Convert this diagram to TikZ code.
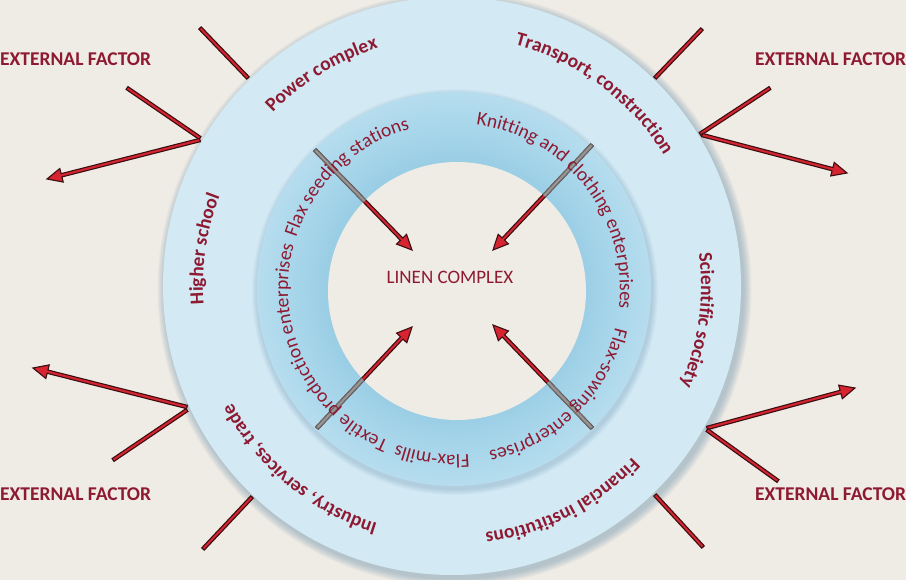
\documentclass[tikz,border=0pt]{standalone}
\usepackage{fontspec}
\setmainfont{Carlito}
\usetikzlibrary{calc,decorations.text}
\definecolor{bg}{HTML}{EFEBE5}
\definecolor{ringout}{HTML}{D3EAF5}
\definecolor{ringmidA}{HTML}{9ACEE5}
\definecolor{ringmidM}{HTML}{A6D5EA}
\definecolor{ringmidB}{HTML}{B6DDEE}
\definecolor{shadowc}{HTML}{5F8CA8}
\definecolor{txtred}{HTML}{8E1A32}
\definecolor{arrred}{HTML}{D62430}
\definecolor{arrdark}{HTML}{3B0E12}
\definecolor{greyfill}{HTML}{9A9696}
\definecolor{greyline}{HTML}{6E6868}
\pgfdeclareradialshading{midring}{\pgfpointorigin}{color(0bp)=(ringmidA); color(16.3bp)=(ringmidA); color(20bp)=(ringmidM); color(25bp)=(ringmidB); color(50bp)=(ringmidB)}
\newcommand\outerlbl{\bfseries\fontsize{19.5}{21}\selectfont}
\newcommand\midlbl{\fontsize{19.5}{21}\selectfont}
% arrow polygon: [style]{start}{tip}
\newcommand\mkarrow[3][arrow body]{%
  \path ($(#3)!15pt!(#2)$) coordinate (tmpP);
  \filldraw[#1] ($(#2)!1.7pt!90:(#3)$) -- ($(tmpP)!1.7pt!90:(#3)$) -- ($(tmpP)!7pt!90:(#3)$) -- (#3) -- ($(tmpP)!7pt!-90:(#3)$) -- ($(tmpP)!1.7pt!-90:(#3)$) -- ($(#2)!1.7pt!-90:(#3)$) -- cycle;
}
\newcommand\mkline[3][arrow body]{%
  \filldraw[#1] ($(#2)!1.7pt!90:(#3)$) -- ($(#3)!1.7pt!-90:(#2)$) -- ($(#3)!1.7pt!90:(#2)$) -- ($(#2)!1.7pt!-90:(#3)$) -- cycle;
}
% {center}{radius}{center angle}{font}{text}
\newcommand\arclabel[5]{%
  \path[decorate, decoration={text along path, text align=center, text color=txtred, text={|#4|#5}}]
    ($(#1)+({#3+80}:#2)$) arc[start angle={#3+80}, end angle={#3-80}, radius=#2];
}
\begin{document}
\begin{tikzpicture}[x=1pt,y=1pt,
  arrow body/.style={fill=arrred, draw=arrdark, line width=1.1pt, line join=miter},
  grey body/.style={fill=greyfill, draw=greyline, line width=1.1pt, line join=miter},
  ext/.style={text=txtred, font=\outerlbl, inner sep=0pt, anchor=west},
]
\useasboundingbox (0,0) rectangle (906,-580);
\fill[bg] (0,0) rectangle (906,-580);
\coordinate (O1) at (452,-286);
\coordinate (O2) at (454,-289);
\coordinate (O3) at (457,-291);
% rings
\foreach \k in {0,...,7}{\fill[shadowc, opacity=0.06] ($(O1)+(2.5,-3.5)$) circle ({297-\k});}
\fill[ringout] (O1) circle (289);
\foreach \k in {0,...,5}{\fill[shadowc, opacity=0.05] ($(O2)+(1,-3)$) circle ({203-\k});}
\shade[shading=midring] (O2) circle (197);
\fill[bg] (O3) circle (129);
% external connectors
\coordinate (a1) at (200,-28);  \coordinate (a2) at (248,-78);
\coordinate (b1) at (127,-88);  \coordinate (b2) at (200,-138);
\coordinate (c1) at (200,-140); \coordinate (c2) at (47,-179);
\coordinate (d1) at (702,-29);  \coordinate (d2) at (655,-78);
\coordinate (e1) at (770,-88);  \coordinate (e2) at (700,-134);
\coordinate (f1) at (702,-135); \coordinate (f2) at (847,-173);
\coordinate (g1) at (187,-407); \coordinate (g2) at (33,-368);
\coordinate (h1) at (187,-410); \coordinate (h2) at (113,-460);
\coordinate (i1) at (252,-497); \coordinate (i2) at (203,-549);
\coordinate (j1) at (707,-428); \coordinate (j2) at (855,-388);
\coordinate (k1) at (707,-430); \coordinate (k2) at (778,-481);
\coordinate (l1) at (655,-495); \coordinate (l2) at (703,-547);
\mkline{a1}{a2}
\mkline{b1}{b2}
\mkarrow{c1}{c2}
\mkline{d1}{d2}
\mkline{e1}{e2}
\mkarrow{f1}{f2}
\mkarrow{g1}{g2}
\mkline{h1}{h2}
\mkline{i1}{i2}
\mkarrow{j1}{j2}
\mkline{k1}{k2}
\mkline{l1}{l2}
% inner arrows
\coordinate (p1) at (315,-150); \coordinate (p2) at (412,-250);
\coordinate (q1) at (592,-145); \coordinate (q2) at (493,-250);
\coordinate (r1) at (317,-428); \coordinate (r2) at (412,-327);
\coordinate (s1) at (592,-428); \coordinate (s2) at (493,-325);
\mkarrow{p1}{p2}
\mkarrow{q1}{q2}
\mkarrow{r1}{r2}
\mkarrow{s1}{s2}
\begin{scope}[even odd rule]
  \clip (0,0) -- (906,0) -- (906,-580) -- (0,-580) -- cycle (O3) circle (129);
  \mkarrow[grey body]{p1}{p2}
  \mkarrow[grey body]{q1}{q2}
  \mkarrow[grey body]{r1}{r2}
  \mkarrow[grey body]{s1}{s2}
\end{scope}
% texts
\node[ext] (ef1) at (0,-59) {EXTERNAL FACTOR};
\node[ext] (ef2) at (755,-59) {EXTERNAL FACTOR};
\node[ext] (ef3) at (0,-494) {EXTERNAL FACTOR};
\node[ext] (ef4) at (755,-494) {EXTERNAL FACTOR};
\node[text=txtred, font=\fontsize{19}{21}\selectfont, inner sep=0pt] (lc) at (450,-277) {LINEN COMPLEX};
\arclabel{O1}{249}{121.6}{\outerlbl}{Power complex}
\arclabel{O1}{249}{53.5}{\outerlbl}{Transport, construction}
\arclabel{O1}{249}{171.5}{\outerlbl}{Higher school}
\arclabel{O1}{249}{-7.9}{\outerlbl}{Scientific society}
\arclabel{O1}{249}{-63}{\outerlbl}{Financial institutions}
\arclabel{O1}{249}{230.3}{\outerlbl}{Industry, services, trade}
\arclabel{O2}{166}{133.7}{\midlbl}{Flax seeding stations}
\arclabel{O2}{166}{37.8}{\midlbl}{Knitting and clothing enterprises}
\arclabel{O2}{166}{-45.7}{\midlbl}{Flax-sowing enterprises}
\arclabel{O2}{166}{-97.5}{\midlbl}{Flax-mills}
\arclabel{O2}{166}{-154.3}{\midlbl}{Textile production enterprises}
\end{tikzpicture}
\end{document}
